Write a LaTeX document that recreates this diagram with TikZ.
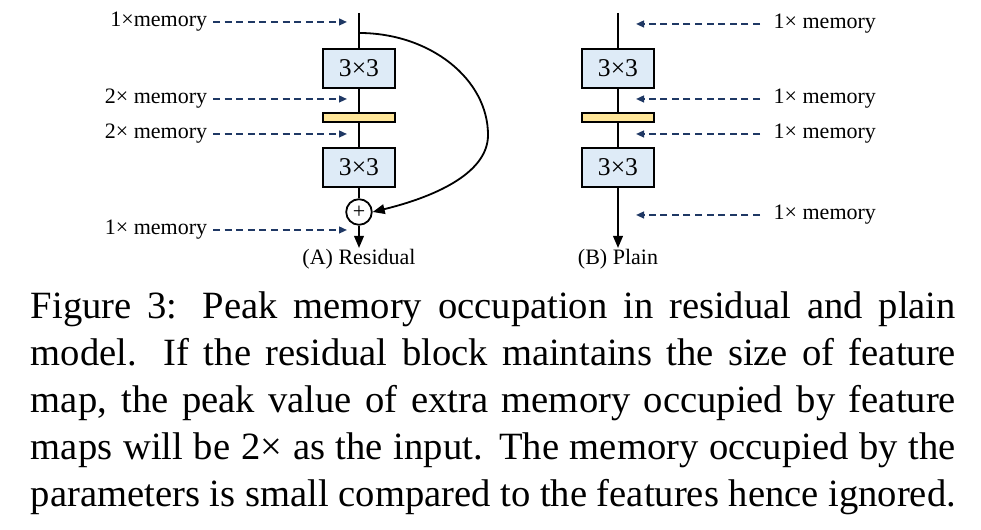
\documentclass[tikz,border=0pt]{standalone}
\usepackage{fontspec}
\setmainfont{Liberation Serif}
\usepackage{tikz}
\usetikzlibrary{arrows.meta}
\definecolor{memblue}{RGB}{31,56,100}
\definecolor{convfill}{RGB}{222,235,247}
\definecolor{bnfill}{RGB}{255,230,153}
\newcommand{\capfigline}[1]{\hbox to 231.25pt{#1}}

\begin{document}
\begin{tikzpicture}[x=0.25pt,y=-0.25pt,line width=0.45pt,
    conv/.style={draw,fill=convfill,minimum width=18pt,minimum height=9.75pt,inner sep=0pt,font=\fontsize{6.4}{7}\selectfont},
    bn/.style={draw,fill=bnfill,minimum width=18pt,minimum height=2.25pt,inner sep=0pt},
    memlabel/.style={font=\fontsize{5.5}{6}\selectfont,inner ysep=0pt},
    memarrow/.style={memblue,dash pattern=on 1.75pt off 1.15pt,-{Triangle[length=2pt,width=1.7pt]}},
    flow/.style={-{Triangle[length=3pt,width=2.4pt]}}]
\useasboundingbox (0,0) rectangle (981,530);

\coordinate (topA) at (359,13);
\coordinate (skipA) at (359,33);
\node[conv] (convA1) at (359,68.5) {3×3};
\node[bn] (bnA) at (359,117.5) {};
\node[conv] (convA2) at (359,167.5) {3×3};
\node[draw,circle,minimum size=6.4pt,inner sep=0pt,font=\fontsize{5.5}{6}\selectfont] (plusA) at (359,212) {+};
\coordinate (endA) at (359,248);
\draw (topA) -- (convA1) -- (bnA) -- (convA2) -- (plusA);
\draw[flow] (plusA) -- (endA);
\draw[flow] (skipA) .. controls (430,33) and (488,79) .. (488,135) .. controls (488,175) and (430,198) .. (plusA.east);
\node[font=\fontsize{5.5}{6}\selectfont,anchor=base] (capA) at (359,265) {(A) Residual};

\node[memlabel,anchor=east,inner xsep=1.25pt] (memA1) at (213,22) {1×memory};
\node[memlabel,anchor=east,inner xsep=1.25pt] (memA2) at (213,99) {2× memory};
\node[memlabel,anchor=east,inner xsep=1.25pt] (memA3) at (213,134) {2× memory};
\node[memlabel,anchor=east,inner xsep=1.25pt] (memA4) at (213,230) {1× memory};
\coordinate (tipA1) at (347,22);
\coordinate (tipA2) at (347,99);
\coordinate (tipA3) at (347,134);
\coordinate (tipA4) at (347,230);
\draw[memarrow] (memA1) -- (tipA1);
\draw[memarrow] (memA2) -- (tipA2);
\draw[memarrow] (memA3) -- (tipA3);
\draw[memarrow] (memA4) -- (tipA4);

\coordinate (topB) at (618,13);
\node[conv] (convB1) at (618,68.5) {3×3};
\node[bn] (bnB) at (618,117.5) {};
\node[conv] (convB2) at (618,167.5) {3×3};
\coordinate (endB) at (618,248);
\draw (topB) -- (convB1) -- (bnB) -- (convB2);
\draw[flow] (convB2) -- (endB);
\node[font=\fontsize{5.5}{6}\selectfont,anchor=base] (capB) at (618,265) {(B) Plain};

\node[memlabel,anchor=west,inner xsep=3.2pt] (memB1) at (760,24) {1× memory};
\node[memlabel,anchor=west,inner xsep=3.2pt] (memB2) at (760,99) {1× memory};
\node[memlabel,anchor=west,inner xsep=3.2pt] (memB3) at (760,134) {1× memory};
\node[memlabel,anchor=west,inner xsep=3.2pt] (memB4) at (760,215) {1× memory};
\coordinate (tipB1) at (636,24);
\coordinate (tipB2) at (636,99);
\coordinate (tipB3) at (636,134);
\coordinate (tipB4) at (636,215);
\draw[memarrow] (memB1) -- (tipB1);
\draw[memarrow] (memB2) -- (tipB2);
\draw[memarrow] (memB3) -- (tipB3);
\draw[memarrow] (memB4) -- (tipB4);

\node[anchor=base west,inner sep=0pt,font=\fontsize{9.65}{11.75}\selectfont] (caption) at (30,319) {\vtop{%
\capfigline{Figure 3: Peak memory occupation in residual and plain}
\capfigline{model. If the residual block maintains the size of feature}
\capfigline{map, the peak value of extra memory occupied by feature}
\capfigline{maps will be 2× as the input. The memory occupied by the}
\capfigline{parameters is small compared to the features hence ignored.}}};
\end{tikzpicture}
\end{document}
